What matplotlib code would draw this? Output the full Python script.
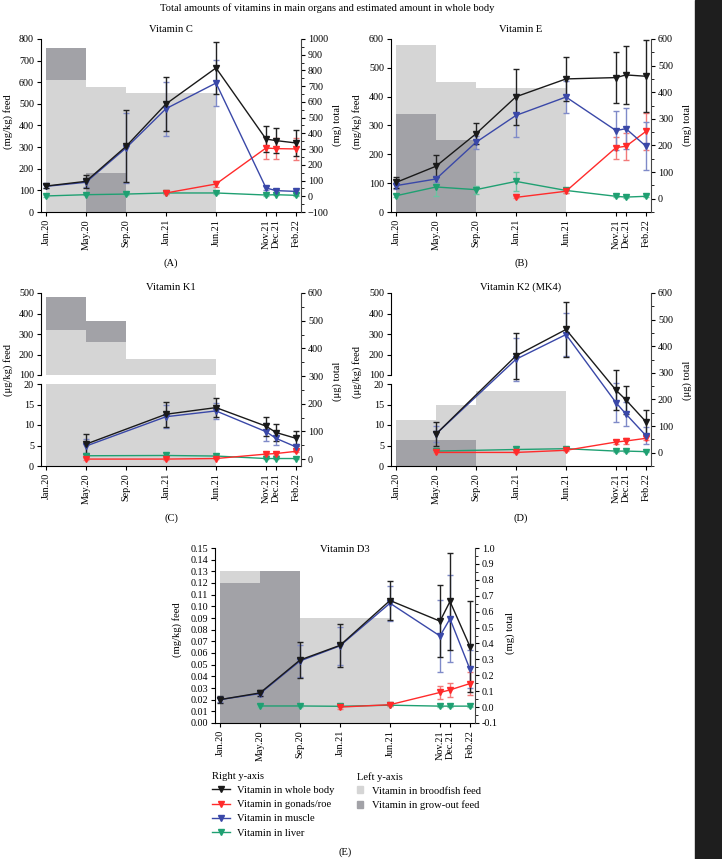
import numpy as np
import matplotlib
matplotlib.use('Agg')
import matplotlib.pyplot as plt
from matplotlib.ticker import AutoMinorLocator, MultipleLocator, FormatStrFormatter
from matplotlib.lines import Line2D
from matplotlib.patches import Patch, Rectangle

plt.rcParams['font.family'] = 'Liberation Serif'
plt.rcParams['font.size'] = 7
plt.rcParams['axes.unicode_minus'] = True

nan = np.nan
dates = ['Jan.20', 'May.20', 'Sep.20', 'Jan.21', 'Jun.21', 'Nov.21', 'Dec.21', 'Feb.22']
months = [0, 4, 8, 12, 17, 22, 23, 25]
feed_edges = [0, 4, 8, 17]

# Vitamin C
vc_brood = [610, 580, 550]
vc_grow = [760, 180, nan]
vc_whole = [65, 95, 317, 587, 816, 364, 354, 339]
vc_whole_err = [12, 42, 229, 170, 166, 80, 78, 80]
vc_gonad = [nan, nan, nan, 21, 78, 307, 303, 301]
vc_gonad_err = [nan, nan, nan, 8, 21, 68, 68, 70]
vc_muscle = [63, 89, 307, 557, 720, 53, 36, 31]
vc_muscle_err = [8, 30, 220, 172, 148, 12, 8, 8]
vc_liver = [2, 10, 14, 21, 21, 8, 10, 6]
vc_liver_err = [4, 4, 4, 4, 4, 4, 4, 4]

# Vitamin E
ve_brood = [580, 450, 430]
ve_grow = [340, 250, nan]
ve_whole = [61, 122, 244, 383, 450, 455, 465, 460]
ve_whole_err = [22, 41, 40, 106, 83, 97, 108, 136]
ve_gonad = [nan, nan, nan, 5, 28, 192, 197, 253]
ve_gonad_err = [nan, nan, nan, 4, 5, 41, 51, 69]
ve_muscle = [49, 74, 212, 313, 382, 256, 263, 197]
ve_muscle_err = [12, 13, 25, 80, 61, 73, 76, 91]
ve_liver = [11, 44, 34, 65, 31, 9, 6, 9]
ve_liver_err = [5, 34, 15, 36, 8, 4, 4, 4]

# Vitamin K1
vk1_brood = [320, 260, 180]
vk1_grow = [480, 365, nan]
vk1_whole = [nan, 54, nan, 162, 186, 119, 96, 75]
vk1_whole_err = [nan, 35, nan, 45, 33, 34, 30, 28]
vk1_gonad = [nan, 0, nan, 0, 2, 18, 20, 28]
vk1_gonad_err = [nan, 3, nan, 3, 3, 4, 4, 4]
vk1_muscle = [nan, 47, nan, 153, 174, 99, 75, 44]
vk1_muscle_err = [nan, 24, nan, 42, 30, 32, 24, 12]
vk1_liver = [nan, 12, nan, 13, 11, 2, 2, 2]
vk1_liver_err = [nan, 3, nan, 3, 3, 2, 2, 2]

# Vitamin K2 (MK4)
vk2_brood = [11.2, 15.0, 18.4]
vk2_grow = [6.3, 6.3, nan]
vk2_whole = [nan, 70, nan, 364, 463, 235, 198, 116]
vk2_whole_err = [nan, 44, nan, 86, 102, 75, 53, 46]
vk2_gonad = [nan, 1, nan, 1, 9, 40, 44, 54]
vk2_gonad_err = [nan, 4, nan, 4, 4, 6, 10, 8]
vk2_muscle = [nan, 70, nan, 351, 444, 188, 145, 64]
vk2_muscle_err = [nan, 30, nan, 81, 80, 72, 46, 33]
vk2_liver = [nan, 6, nan, 12, 15, 6, 6, 4]
vk2_liver_err = [nan, 3, nan, 3, 3, 3, 3, 3]

# Vitamin D3
vd_brood = [0.13, 0.13, 0.09]
vd_grow = [0.12, 0.13, nan]
vd_whole = [0.047, 0.089, 0.296, 0.388, 0.67, 0.54, 0.664, 0.38]
vd_whole_err = [0.02, 0.02, 0.116, 0.133, 0.12, 0.227, 0.305, 0.285]
vd_gonad = [nan, nan, nan, 0.0, 0.015, 0.092, 0.108, 0.148]
vd_gonad_err = [nan, nan, nan, 0.01, 0.01, 0.04, 0.046, 0.07]
vd_muscle = [0.047, 0.085, 0.29, 0.385, 0.653, 0.447, 0.555, 0.237]
vd_muscle_err = [0.015, 0.015, 0.10, 0.12, 0.11, 0.228, 0.274, 0.12]
vd_liver = [nan, 0.007, 0.007, 0.005, 0.012, 0.006, 0.006, 0.006]
vd_liver_err = [nan, 0.004, 0.004, 0.004, 0.004, 0.004, 0.004, 0.004]

LIGHT = '#d5d5d5'
DARK = '#a2a2a7'
C_WHOLE = '#1a1a1a'
C_GONAD = '#ff2b2b'
C_MUSCLE = '#3a48a8'
C_LIVER = '#1fa072'
TICK_FS = 7.3
TEXT_FS = 7.6

W, H = 722, 859
fig = plt.figure(figsize=(W / 100, H / 100), dpi=100)
fig.patches.append(Rectangle((695 / W, 0), 1, 1, transform=fig.transFigure,
                             color='#1e1e1e', zorder=-1))


def px_axes(left, top, right, bottom):
    return fig.add_axes([left / W, 1 - bottom / H, (right - left) / W, (bottom - top) / H])


def feed_bars(ax, brood, grow):
    x0 = np.array(feed_edges[:-1])
    wd = np.diff(feed_edges)
    for i in range(len(brood)):
        b, g = brood[i], grow[i]
        gz = 2 if (np.isnan(b) or (not np.isnan(g) and g <= b)) else 1
        if not np.isnan(b):
            ax.bar(x0[i], b, wd[i], align='edge', color=LIGHT, lw=0, zorder=3 - gz)
        if not np.isnan(g):
            ax.bar(x0[i], g, wd[i], align='edge', color=DARK, lw=0, zorder=gz)


def series(ax, y, err, color, ecolor):
    x = np.array(months, float)
    y = np.array(y, float)
    e = np.array(err, float)
    m = ~np.isnan(y)
    ax.errorbar(x[m], y[m], yerr=e[m], color=color, ecolor=ecolor, lw=1, marker='v',
                ms=4.2, elinewidth=1, capsize=2.2, capthick=1)


def all_series(ax, whole, whole_err, gonad, gonad_err, muscle, muscle_err, liver, liver_err):
    series(ax, liver, liver_err, C_LIVER, '#6cc4a2')
    series(ax, gonad, gonad_err, C_GONAD, '#f27a7a')
    series(ax, muscle, muscle_err, C_MUSCLE, '#7f8ac8')
    series(ax, whole, whole_err, C_WHOLE, '#222222')


def style_left(ax, xaxis=True):
    ax.set_xlim(-0.5, 25.5)
    ax.spines['top'].set_visible(False)
    ax.spines['right'].set_visible(False)
    ax.tick_params(axis='y', direction='out', length=3, pad=2, labelsize=TICK_FS)
    ax.set_facecolor('none')
    if xaxis:
        ax.set_xticks(months)
        ax.set_xticklabels(dates, rotation=90)
        ax.tick_params(axis='x', direction='out', length=3, pad=2, labelsize=TICK_FS)
    else:
        ax.spines['bottom'].set_visible(False)
        ax.set_xticks([])


def style_right(ax2, lo, hi, step, fmt=None):
    ax2.set_xlim(-0.5, 25.5)
    ax2.set_ylim(lo, hi)
    ax2.yaxis.set_major_locator(MultipleLocator(step))
    ax2.yaxis.set_minor_locator(AutoMinorLocator(2))
    if fmt:
        ax2.yaxis.set_major_formatter(FormatStrFormatter(fmt))
    for s in ['top', 'left', 'bottom']:
        ax2.spines[s].set_visible(False)
    ax2.spines['right'].set_color('#444444')
    ax2.tick_params(axis='y', which='major', direction='out', length=3, pad=2, labelsize=TICK_FS)
    ax2.tick_params(axis='y', which='minor', direction='out', length=1.8)


def text(x, y, s, **kw):
    fig.text(x / W, 1 - y / H, s, ha='center', va='center', fontsize=TEXT_FS, **kw)


text(327, 8, 'Total amounts of vitamins in main organs and estimated amount in whole body')

# (A) Vitamin C
ax = px_axes(41, 39, 301, 212)
feed_bars(ax, vc_brood, vc_grow)
ax.set_ylim(0, 800)
ax.yaxis.set_major_locator(MultipleLocator(100))
style_left(ax)
ax2 = ax.twinx()
all_series(ax2, vc_whole, vc_whole_err, vc_gonad, vc_gonad_err, vc_muscle, vc_muscle_err,
           vc_liver, vc_liver_err)
style_right(ax2, -100, 1000, 100)
text(171, 29, 'Vitamin C')
text(171, 263, '(A)')
text(8, 122, '(mg/kg) feed', rotation=90)
text(337, 125, '(mg) total', rotation=90)

# (B) Vitamin E
ax = px_axes(391, 39, 651, 212)
feed_bars(ax, ve_brood, ve_grow)
ax.set_ylim(0, 600)
ax.yaxis.set_major_locator(MultipleLocator(100))
style_left(ax)
ax2 = ax.twinx()
all_series(ax2, ve_whole, ve_whole_err, ve_gonad, ve_gonad_err, ve_muscle, ve_muscle_err,
           ve_liver, ve_liver_err)
style_right(ax2, -50, 600, 100)
text(521, 29, 'Vitamin E')
text(521, 263, '(B)')
text(357, 122, '(mg/kg) feed', rotation=90)
text(687, 125, '(mg) total', rotation=90)


def broken_panel(left, right, brood, grow, args, rlo):
    top = px_axes(left, 293, right, 375)
    feed_bars(top, brood, grow)
    top.set_ylim(100, 500)
    top.yaxis.set_major_locator(MultipleLocator(100))
    style_left(top, xaxis=False)
    bot = px_axes(left, 384, right, 466)
    feed_bars(bot, brood, grow)
    bot.set_ylim(0, 20)
    bot.yaxis.set_major_locator(MultipleLocator(5))
    style_left(bot)
    r = px_axes(left, 293, right, 466)
    r.patch.set_visible(False)
    r.yaxis.tick_right()
    r.set_xticks([])
    all_series(r, *args)
    style_right(r, rlo, 600, 100)


# (C) Vitamin K1
broken_panel(41, 301, vk1_brood, vk1_grow,
             (vk1_whole, vk1_whole_err, vk1_gonad, vk1_gonad_err, vk1_muscle, vk1_muscle_err,
              vk1_liver, vk1_liver_err), -25)
text(171, 287, 'Vitamin K1')
text(171, 518, '(C)')
text(8, 370, '(μg/kg) feed', rotation=90)
text(337, 381, '(μg) total', rotation=90)

# (D) Vitamin K2
broken_panel(391, 651, vk2_brood, vk2_grow,
             (vk2_whole, vk2_whole_err, vk2_gonad, vk2_gonad_err, vk2_muscle, vk2_muscle_err,
              vk2_liver, vk2_liver_err), -50)
text(521, 287, 'Vitamin K2 (MK4)')
text(521, 518, '(D)')
text(357, 372, '(μg/kg) feed', rotation=90)
text(687, 380, '(μg) total', rotation=90)

# (E) Vitamin D3
ax = px_axes(215, 548, 475, 723)
feed_bars(ax, vd_brood, vd_grow)
ax.set_ylim(0, 0.15)
ax.yaxis.set_major_locator(MultipleLocator(0.01))
ax.yaxis.set_major_formatter(FormatStrFormatter('%.2f'))
style_left(ax)
ax2 = ax.twinx()
all_series(ax2, vd_whole, vd_whole_err, vd_gonad, vd_gonad_err, vd_muscle, vd_muscle_err,
           vd_liver, vd_liver_err)
style_right(ax2, -0.1, 1.0, 0.1, '%.1f')
text(345, 549, 'Vitamin D3')
text(345, 852, '(E)')
text(177, 630, '(mg/kg) feed', rotation=90)
text(510, 633, '(mg) total', rotation=90)

line_handles = [Line2D([], [], color=c, marker='v', ms=4.2, lw=1)
                for c in (C_WHOLE, C_GONAD, C_MUSCLE, C_LIVER)]
line_labels = ['Vitamin in whole body', 'Vitamin in gonads/roe',
               'Vitamin in muscle', 'Vitamin in liver']
fig.legend(line_handles, line_labels, title='Right y-axis', loc='upper left',
           bbox_to_anchor=(212 / W, 1 - 772 / H), frameon=False, alignment='left',
           fontsize=TEXT_FS, title_fontsize=TEXT_FS, handlelength=1.7, handletextpad=0.65,
           labelspacing=0.45, borderpad=0, borderaxespad=0)
patch_handles = [Patch(color=LIGHT), Patch(color=DARK)]
patch_labels = ['Vitamin in broodfish feed', 'Vitamin in grow-out feed']
fig.legend(patch_handles, patch_labels, title='Left y-axis', loc='upper left',
           bbox_to_anchor=(357 / W, 1 - 772 / H), frameon=False, alignment='left',
           fontsize=TEXT_FS, title_fontsize=TEXT_FS, handlelength=0.6, handleheight=0.6,
           handletextpad=0.85, labelspacing=0.45, borderpad=0, borderaxespad=0)

fig.savefig('out.png', dpi=100)
